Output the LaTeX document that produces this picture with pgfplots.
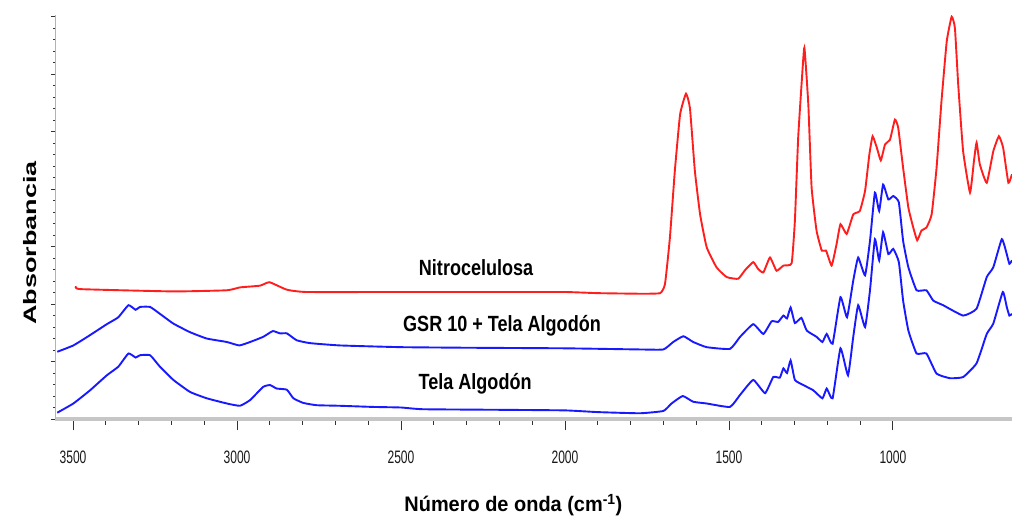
\documentclass[border=0pt]{standalone}
\usepackage{pgfplots}
\pgfplotsset{compat=1.18}
\usepackage{fontspec}
\setmainfont{Liberation Sans}
\newfontfamily\tickfont[FakeStretch=0.67]{Liberation Sans}
\newfontfamily\labfont[FakeStretch=0.82]{Liberation Sans}
\newfontfamily\xlabfont[FakeStretch=0.95]{Liberation Sans}
\newfontfamily\ylabfont[FakeStretch=1.5]{Liberation Sans}

\definecolor{specred}{RGB}{255,30,30}
\definecolor{specblue}{RGB}{25,25,255}

\begin{document}
\begin{tikzpicture}
\useasboundingbox (-55bp,-100bp) rectangle (957bp,419bp);

% main axis: x axis and spectra
\begin{axis}[
    at={(0,0)}, anchor=south west,
    scale only axis, width=957bp, height=404bp,
    x dir=reverse,
    xmin=637, xmax=3555,
    ymin=0, ymax=7.03,
    axis x line=bottom, axis y line=none,
    x axis line style={-, gray!45, line width=4bp},
    xtick={1000,1500,...,3500},
    minor x tick num=4,
    tick align=outside,
    major tick length=11bp, minor tick length=6bp,
    tick style={black!80, line width=0.9bp},
    xticklabel style={font=\fontsize{18bp}{20bp}\tickfont, text=black!90, anchor=base, yshift=-33bp},
    /pgf/number format/assume math mode=true,
    /pgf/number format/set thousands separator={},
    ytick=\empty,
    xlabel={\xlabfont\bfseries N\'umero de onda (cm\textsuperscript{-1})},
    xlabel style={at={(axis description cs:0.479,-0.213)}, anchor=center, font=\fontsize{21bp}{24bp}\selectfont},
    every axis plot/.append style={line width=1.9bp, smooth, tension=0.25},
]
% Tela Algodon
\addplot[specblue] coordinates {
(3548,0.11)(3499,0.27)(3448,0.50)(3397,0.76)(3362,0.91)(3331,1.14)(3309,1.07)(3296,1.11)
(3265,1.11)(3235,0.91)(3194,0.68)(3143,0.47)(3092,0.36)(3031,0.27)(2991,0.23)(2960,0.33)
(2920,0.56)(2899,0.59)(2879,0.53)(2848,0.51)(2828,0.36)(2798,0.28)(2757,0.24)(2686,0.23)
(2585,0.21)(2500,0.20)(2433,0.17)(2200,0.16)(2000,0.15)(1900,0.12)(1771,0.10)(1700,0.14)
(1675,0.27)(1641,0.40)(1609,0.30)(1568,0.27)(1497,0.21)(1466,0.42)(1426,0.68)(1390,0.45)
(1365,0.73)(1345,0.72)(1334,0.88)(1323,0.80)(1312,1.02)(1299,0.68)(1273,0.59)(1243,0.50)
(1215,0.36)(1202,0.53)(1184,0.36)(1160,1.23)(1137,0.76)(1121,1.43)(1106,1.98)(1085,1.60)
(1070,2.24)(1055,3.13)(1042,2.76)(1030,3.25)(1014,2.87)(999,2.96)(982,2.73)(969,2.06)
(953,1.54)(928,1.14)(898,1.14)(867,0.79)(826,0.71)(786,0.73)(745,0.97)(714,1.48)
(694,1.66)(665,2.21)(653,1.95)(645,1.80)(637,1.83)
};
% GSR 10 + Tela Algodon
\addplot[specblue] coordinates {
(3548,1.17)(3499,1.28)(3448,1.46)(3397,1.65)(3362,1.77)(3331,1.98)(3309,1.90)(3296,1.95)
(3265,1.95)(3235,1.83)(3194,1.66)(3143,1.51)(3092,1.40)(3031,1.34)(2993,1.28)(2960,1.34)
(2920,1.43)(2891,1.53)(2869,1.49)(2848,1.49)(2818,1.37)(2777,1.32)(2686,1.28)(2500,1.25)
(2300,1.24)(2000,1.23)(1771,1.21)(1700,1.21)(1670,1.34)(1639,1.44)(1609,1.34)(1568,1.25)
(1497,1.22)(1466,1.43)(1426,1.65)(1395,1.48)(1370,1.70)(1350,1.69)(1334,1.80)(1323,1.75)
(1312,1.94)(1299,1.67)(1279,1.76)(1263,1.54)(1233,1.43)(1215,1.34)(1202,1.48)(1184,1.31)
(1160,2.12)(1140,1.77)(1121,2.41)(1106,2.81)(1085,2.50)(1070,3.10)(1055,3.94)(1042,3.62)
(1030,4.08)(1014,3.82)(999,3.88)(982,3.77)(969,3.10)(953,2.64)(928,2.24)(898,2.24)
(877,2.06)(847,1.98)(786,1.80)(745,1.92)(714,2.47)(694,2.64)(668,3.13)(653,2.87)
(645,2.70)(637,2.76)
};
% Nitrocelulosa
\addplot[specred] coordinates {
(3491,2.31)(3477,2.26)(3194,2.22)(3031,2.24)(2991,2.29)(2930,2.32)(2901,2.38)(2848,2.25)
(2788,2.21)(2500,2.21)(2200,2.21)(2000,2.21)(1900,2.19)(1771,2.18)(1710,2.19)(1695,2.35)
(1680,3.16)(1665,4.32)(1649,5.30)(1631,5.66)(1619,5.41)(1604,4.32)(1588,3.56)(1568,2.99)
(1538,2.64)(1507,2.47)(1472,2.44)(1451,2.59)(1426,2.73)(1411,2.61)(1395,2.55)(1375,2.81)
(1355,2.58)(1334,2.67)(1309,2.71)(1299,3.45)(1289,4.89)(1278,5.88)(1270,6.46)(1258,5.47)
(1248,4.03)(1233,3.28)(1217,2.93)(1204,2.93)(1187,2.67)(1172,3.04)(1160,3.39)(1141,3.22)
(1121,3.56)(1101,3.62)(1085,3.97)(1072,4.60)(1062,4.92)(1049,4.72)(1037,4.50)(1024,4.78)
(1009,4.86)(994,5.21)(984,5.07)(969,4.37)(953,3.68)(938,3.33)(926,3.11)(913,3.28)
(898,3.33)(882,3.56)(867,4.37)(852,5.53)(836,6.57)(821,7.00)(811,6.80)(801,5.82)
(786,4.66)(765,3.94)(753,4.49)(745,4.81)(735,4.43)(714,4.11)(694,4.66)(677,4.92)
(664,4.72)(648,4.11)(637,4.26)
};
\node[anchor=base, font=\fontsize{22bp}{24bp}\labfont\bfseries] at (axis cs:2271,2.50) {Nitrocelulosa};
\node[anchor=base, font=\fontsize{22bp}{24bp}\labfont\bfseries] at (axis cs:2192,1.52) {GSR 10 + Tela Algod\'on};
\node[anchor=base, font=\fontsize{22bp}{24bp}\labfont\bfseries] at (axis cs:2274,0.51) {Tela Algod\'on};
\end{axis}

% overlay axis: y axis line with short ticks and label
\begin{axis}[
    at={(0,0)}, anchor=south west,
    scale only axis, width=957bp, height=404bp,
    xmin=637, xmax=3555,
    ymin=0, ymax=7.03,
    axis x line=none, axis y line=left,
    y axis line style={-, gray!60, line width=1bp},
    ytick={0,1,...,7}, yticklabels={},
    minor y tick num=4,
    tick align=outside,
    major tick length=4bp, minor tick length=2bp,
    tick style={black!80, line width=0.9bp},
    ylabel={\ylabfont\bfseries Absorbancia},
    ylabel style={at={(axis description cs:-0.026,0.436)}, anchor=center, rotate=0, font=\fontsize{18bp}{20bp}\selectfont},
]
\end{axis}
\end{tikzpicture}
\end{document}
